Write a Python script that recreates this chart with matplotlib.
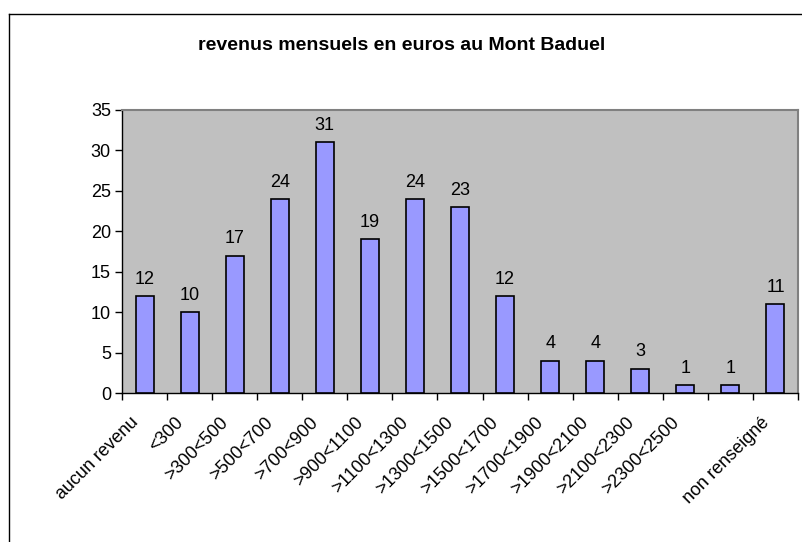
import matplotlib
matplotlib.use("Agg")
import matplotlib.pyplot as plt
import matplotlib.transforms as mtransforms
from matplotlib.lines import Line2D

categories = ["aucun revenu", "<300", ">300<500", ">500<700", ">700<900", ">900<1100",
              ">1100<1300", ">1300<1500", ">1500<1700", ">1700<1900", ">1900<2100",
              ">2100<2300", ">2300<2500", "", "non renseigné"]
values = [12, 10, 17, 24, 31, 19, 24, 23, 12, 4, 4, 3, 1, 1, 11]
yticks = [0, 5, 10, 15, 20, 25, 30, 35]
title = "revenus mensuels en euros au Mont Baduel"

plt.rcParams['font.family'] = ['Liberation Sans', 'DejaVu Sans']

W, H = 803, 542
fig = plt.figure(figsize=(W / 100, H / 100), dpi=100)
fig.patch.set_facecolor("white")

# outer chart frame
fig.add_artist(Line2D([9.5 / W, 9.5 / W], [0, 1 - 13.5 / H], transform=fig.transFigure,
                      color="black", lw=1.0))
fig.add_artist(Line2D([9.5 / W, 1], [1 - 13.5 / H, 1 - 13.5 / H], transform=fig.transFigure,
                      color="black", lw=1.0))

left, right, top, bottom = 122 / W, 798 / W, 1 - 110 / H, 1 - 393 / H
ax = fig.add_axes([left, bottom, right - left, top - bottom])
ax.set_facecolor("#C0C0C0")

x = list(range(len(values)))
ax.bar(x, values, width=0.4, color="#9999FF", edgecolor="black", linewidth=1.2, zorder=3)

ax.set_xlim(-0.5, len(values) - 0.5)
ax.set_ylim(0, 35)
ax.set_yticks(yticks)
ax.set_yticklabels([str(t) for t in yticks], fontsize=13)
ax.tick_params(axis="y", direction="out", length=5, width=1, pad=3)

# tick marks at category boundaries
ax.set_xticks([i - 0.5 for i in range(len(values) + 1)])
ax.set_xticklabels([])
ax.tick_params(axis="x", direction="out", length=5, width=1)

for sp in ["left", "bottom"]:
    ax.spines[sp].set_color("black")
    ax.spines[sp].set_linewidth(1.0)
for sp in ["top", "right"]:
    ax.spines[sp].set_color("#808080")
    ax.spines[sp].set_linewidth(1.5)

# rotated category labels
offset = mtransforms.ScaledTranslation(-9 / 100, -27 / 100, fig.dpi_scale_trans)
trans = mtransforms.blended_transform_factory(ax.transData, ax.transAxes) + offset
for i, lab in enumerate(categories):
    if lab:
        ax.text(i, 0, lab, transform=trans, rotation=45, ha="right", va="center",
                rotation_mode="anchor", fontsize=13)

# value labels
for i, v in enumerate(values):
    ax.annotate(str(v), (i, v), xytext=(0, 6), textcoords="offset points",
                ha="center", va="bottom", fontsize=13)

fig.text(0.5, 1 - 45 / H, title, ha="center", va="center", fontsize=14, fontweight="bold")

fig.savefig("out.png", dpi=100)
